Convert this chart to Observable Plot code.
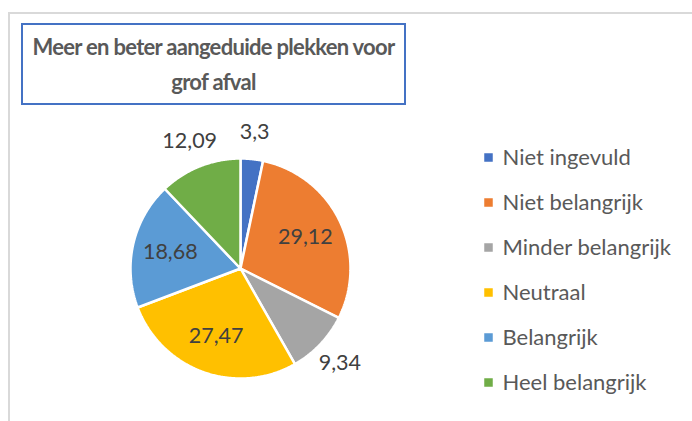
<!DOCTYPE html>
<html>
<head>
<meta charset="utf-8">
<script src="https://cdn.jsdelivr.net/npm/d3@7"></script>
<script src="https://cdn.jsdelivr.net/npm/@observablehq/plot@0.6"></script>
<style>
  html, body { margin: 0; padding: 0; background: #fff; }
  #wrap { position: relative; width: 692px; height: 421px; overflow: hidden; font-family: Lato, "Open Sans", sans-serif; }
  #frame { position: absolute; left: 8px; top: 12px; right: -4px; bottom: -4px; border-left: 2px solid #d9d9d9; border-top: 2px solid #d9d9d9; }
  #title { position: absolute; left: 21px; top: 23px; width: 381px; height: 78px; border: 2px solid #4472C4;
           display: flex; align-items: center; justify-content: center; text-align: center; white-space: nowrap;
           font-weight: bold; font-size: 22px; letter-spacing: -0.7px; line-height: 35px; color: #595959; background: #fff; z-index: 2; }
  #chart { position: absolute; left: 0; top: 0; }
</style>
</head>
<body>
<div id="wrap">
  <div id="frame"></div>
  <div id="chart"></div>
  <div id="title"><span>Meer en beter aangeduide plekken voor<br>grof afval</span></div>
</div>
<script>
const categories = ["Niet ingevuld", "Niet belangrijk", "Minder belangrijk", "Neutraal", "Belangrijk", "Heel belangrijk"];
const values = [3.3, 29.12, 9.34, 27.47, 18.68, 12.09];
const valueLabels = ["3,3", "29,12", "9,34", "27,47", "18,68", "12,09"];
const colors = ["#4472C4", "#ED7D31", "#A5A5A5", "#FFC000", "#5B9BD5", "#70AD47"];

const cx = 240, cy = 268, R = 110, rIn = 72, rOut = 137;
const total = d3.sum(values);

// slice polygons
const polys = [];
const labels = [];
let acc = 0;
values.forEach((v, i) => {
  const a0 = acc / total * 2 * Math.PI;
  acc += v;
  const a1 = acc / total * 2 * Math.PI;
  polys.push({cat: categories[i], x: cx, y: cy});
  const n = Math.max(2, Math.ceil((a1 - a0) / (Math.PI / 360)));
  for (let k = 0; k <= n; k++) {
    const a = a0 + (a1 - a0) * k / n;
    polys.push({cat: categories[i], x: cx + R * Math.sin(a), y: cy - R * Math.cos(a)});
  }
  const am = (a0 + a1) / 2;
  const r = v < 15 ? rOut : rIn;
  labels.push({text: valueLabels[i], x: cx + r * Math.sin(am), y: cy - r * Math.cos(am)});
});

const legend = categories.map((c, i) => ({cat: c, y: 157 + i * 45}));

const chart = Plot.plot({
  width: 692, height: 421, margin: 0,
  style: {background: "transparent", fontFamily: "Lato, 'Open Sans', sans-serif"},
  x: {domain: [0, 692], range: [0, 692], axis: null},
  y: {domain: [0, 421], range: [0, 421], axis: null},
  color: {domain: categories, range: colors},
  marks: [
    Plot.line(polys, {x: "x", y: "y", z: "cat", fill: "cat", stroke: "white", strokeWidth: 2.5, curve: "linear-closed", strokeLinejoin: "miter"}),
    Plot.text(labels, {x: "x", y: "y", text: "text", fontSize: 21.5, fill: "#404040"}),
    Plot.dot(legend, {x: 488, y: "y", symbol: "square", r: 4.8, fill: "cat", stroke: null}),
    Plot.text(legend, {x: 502, y: "y", text: "cat", textAnchor: "start", fontSize: 22, fill: "#595959"})
  ]
});
document.getElementById("chart").appendChild(chart);
</script>
</body>
</html>
